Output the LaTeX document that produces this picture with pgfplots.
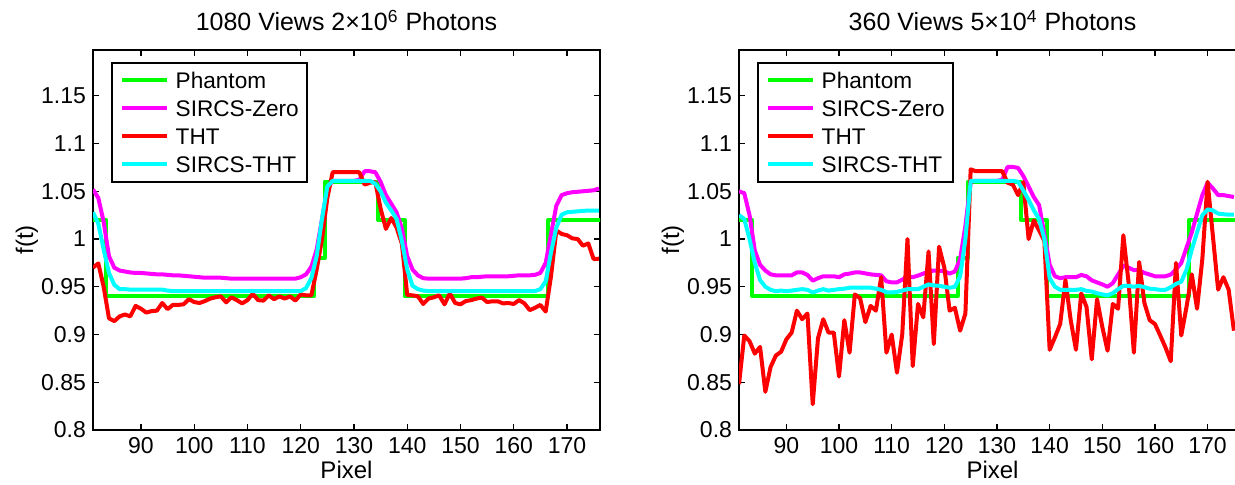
\documentclass[border=0pt]{standalone}
\usepackage{fontspec}
\setmainfont{Liberation Sans}
\usepackage{pgfplots}
\usepackage{pgfplotstable}
\pgfplotsset{compat=1.18}

\definecolor{mGreen}{RGB}{0,255,0}
\definecolor{mMagenta}{RGB}{255,0,255}
\definecolor{mRed}{RGB}{255,0,0}
\definecolor{mCyan}{RGB}{0,255,255}

% phantom (step profile, same for both panels)
\pgfplotstableread{
x y
81 1.02
83.5 1.02
83.5 0.94
122.5 0.94
122.5 0.98
124.5 0.98
124.5 1.06
134.5 1.06
134.5 1.02
139.5 1.02
139.5 0.94
166.5 0.94
166.5 1.02
178 1.02
}\phantomdata

% 1080 views, 2e6 photons
\pgfplotstableread{
x zero tht stht
81 1.052 0.970 1.028
82 1.043 0.9745 1.016
83 1.018 0.950 0.989
84 0.982 0.917 0.9645
85 0.970 0.914 0.952
86 0.967 0.919 0.9475
87 0.966 0.921 0.9475
88 0.965 0.919 0.947
89 0.9645 0.930 0.947
90 0.9645 0.927 0.947
91 0.964 0.923 0.947
92 0.9635 0.9245 0.947
93 0.963 0.925 0.947
94 0.963 0.933 0.947
95 0.9625 0.9266 0.946
96 0.962 0.931 0.9455
97 0.962 0.931 0.9455
98 0.9615 0.9316 0.9455
99 0.961 0.937 0.9455
100 0.9605 0.934 0.9455
101 0.960 0.933 0.9455
102 0.9595 0.935 0.9455
103 0.9595 0.9376 0.9455
104 0.9595 0.939 0.9455
105 0.9595 0.940 0.9455
106 0.959 0.9337 0.9455
107 0.9585 0.939 0.9455
108 0.9585 0.936 0.9455
109 0.9585 0.9326 0.9455
110 0.9585 0.936 0.9455
111 0.9585 0.9426 0.9455
112 0.9585 0.936 0.9455
113 0.9585 0.9355 0.9455
114 0.9585 0.941 0.9455
115 0.9585 0.937 0.9455
116 0.9585 0.940 0.9455
117 0.9585 0.9376 0.9455
118 0.9585 0.940 0.9455
119 0.9585 0.9355 0.9455
120 0.960 0.942 0.9455
121 0.963 0.941 0.9486
122 0.971 0.941 0.959
123 0.989 0.968 0.982
124 1.021 1.000 1.021
125 1.053 1.043 1.055
126 1.061 1.070 1.061
127 1.061 1.070 1.061
128 1.061 1.070 1.061
129 1.061 1.070 1.061
130 1.061 1.070 1.061
131 1.062 1.070 1.061
132 1.071 1.057 1.061
133 1.071 1.059 1.061
134 1.070 1.0596 1.058
135 1.060 1.032 1.050
136 1.046 1.0106 1.038
137 1.037 1.022 1.030
138 1.028 1.012 1.021
139 1.011 0.995 0.998
140 0.982 0.9415 0.968
141 0.968 0.941 0.951
142 0.962 0.940 0.9475
143 0.959 0.932 0.946
144 0.9585 0.9376 0.9455
145 0.9585 0.939 0.9455
146 0.9585 0.941 0.9455
147 0.9585 0.9316 0.9455
148 0.9585 0.943 0.9455
149 0.9585 0.933 0.9455
150 0.9585 0.9316 0.9455
151 0.959 0.935 0.9455
152 0.960 0.936 0.9455
153 0.960 0.9376 0.9455
154 0.9605 0.9387 0.9455
155 0.961 0.934 0.9455
156 0.961 0.9348 0.9455
157 0.961 0.9348 0.9455
158 0.961 0.9326 0.9455
159 0.961 0.933 0.9455
160 0.9615 0.932 0.9455
161 0.962 0.936 0.9455
162 0.962 0.9326 0.9455
163 0.962 0.9255 0.9455
164 0.9625 0.928 0.9455
165 0.9645 0.931 0.9475
166 0.975 0.924 0.9557
167 1.005 0.961 0.986
168 1.035 1.0089 1.012
169 1.046 1.0053 1.0255
170 1.048 1.004 1.028
171 1.049 1.0007 1.0285
172 1.0495 1.000 1.029
173 1.050 0.993 1.0295
174 1.0505 0.9954 1.0298
175 1.051 0.979 1.0298
176 1.053 0.9794 1.0298
}\leftdata

% 360 views, 5e4 photons
\pgfplotstableread{
x zero tht stht
81 1.050 0.848 1.025
82 1.048 0.899 1.021
83 1.025 0.893 1.000
84 0.988 0.880 0.975
85 0.973 0.887 0.957
86 0.967 0.840 0.950
87 0.963 0.866 0.9468
88 0.962 0.878 0.9454
89 0.962 0.882 0.946
90 0.962 0.895 0.9454
91 0.962 0.902 0.946
92 0.965 0.925 0.9468
93 0.965 0.916 0.9475
94 0.9624 0.922 0.9468
95 0.9564 0.827 0.944
96 0.959 0.896 0.946
97 0.961 0.916 0.9475
98 0.961 0.902 0.946
99 0.961 0.902 0.9468
100 0.960 0.856 0.9475
101 0.963 0.915 0.948
102 0.9638 0.881 0.949
103 0.965 0.942 0.949
104 0.965 0.938 0.949
105 0.964 0.913 0.949
106 0.963 0.930 0.949
107 0.9624 0.925 0.948
108 0.962 0.960 0.9468
109 0.9557 0.881 0.9443
110 0.9546 0.900 0.944
111 0.9546 0.860 0.9447
112 0.9574 0.900 0.946
113 0.961 1.000 0.9475
114 0.960 0.867 0.9475
115 0.9617 0.932 0.9475
116 0.9638 0.918 0.950
117 0.966 0.987 0.9525
118 0.967 0.890 0.9514
119 0.9667 0.992 0.951
120 0.9663 0.970 0.950
121 0.9638 0.925 0.949
122 0.966 0.928 0.950
123 0.979 0.904 0.961
124 1.014 0.922 1.000
125 1.060 1.073 1.061
126 1.061 1.071 1.061
127 1.061 1.071 1.061
128 1.061 1.071 1.061
129 1.061 1.071 1.061
130 1.061 1.071 1.061
131 1.062 1.071 1.061
132 1.0755 1.059 1.061
133 1.0755 1.057 1.061
134 1.0745 1.046 1.060
135 1.066 1.0596 1.051
136 1.055 1.000 1.041
137 1.044 1.0195 1.030
138 1.0355 1.009 1.021
139 1.005 0.998 1.000
140 0.973 0.884 0.959
141 0.961 0.897 0.950
142 0.959 0.911 0.9468
143 0.960 0.957 0.9468
144 0.960 0.915 0.9468
145 0.960 0.884 0.9468
146 0.9624 0.943 0.9475
147 0.961 0.929 0.9457
148 0.9567 0.874 0.945
149 0.9546 0.937 0.9433
150 0.9525 0.908 0.942
151 0.950 0.883 0.941
152 0.9539 0.932 0.9433
153 0.9628 0.927 0.9475
154 0.972 1.004 0.951
155 0.970 0.954 0.951
156 0.9674 0.881 0.950
157 0.9674 0.976 0.951
158 0.9645 0.933 0.9496
159 0.9628 0.915 0.948
160 0.961 0.911 0.9475
161 0.961 0.899 0.9468
162 0.961 0.8865 0.9468
163 0.9628 0.872 0.9496
164 0.968 0.975 0.953
165 0.975 0.899 0.9553
166 0.991 0.929 0.968
167 1.007 0.963 0.989
168 1.0266 0.927 1.007
169 1.046 0.979 1.025
170 1.059 1.060 1.031
171 1.053 1.0035 1.030
172 1.046 0.947 1.0266
173 1.046 0.960 1.026
174 1.045 0.947 1.0255
175 1.044 0.904 1.0255
}\rightdata

\pgfplotsset{
  every axis title shift=0pt,
  matlab/.style={
    scale only axis, width=253.5pt, height=190pt,
    xmin=81, ymin=0.8, ymax=1.198,
    xtick={90,100,110,120,130,140,150,160,170},
    xticklabels={90,100,110,120,130,140,150,160,170},
    ytick={0.8,0.85,0.9,0.95,1,1.05,1.1,1.15},
    yticklabels={0.8,0.85,0.9,0.95,1,1.05,1.1,1.15},
    /pgf/number format/assume math mode=true,
    tick align=inside, major tick length=3.2pt,
    axis line style={line width=0.8pt},
    every tick/.append style={black, line width=0.6pt},
    tick label style={font=\fontsize{11.5}{13}\selectfont},
    title style={font=\fontsize{12.5}{15}\selectfont, at={(axis description cs:0.5,1)}, anchor=base, yshift=9.5pt},
    xlabel style={font=\fontsize{12}{14}\selectfont, at={(axis description cs:0.5,0)}, anchor=base, yshift=-24.5pt},
    ylabel style={font=\fontsize{12}{14}\selectfont, at={(axis description cs:-0.118,0.5)}, anchor=base},
    xlabel={Pixel}, ylabel={f(t)},
    legend style={
      at={(0.0355,0.968)}, anchor=north west,
      draw=black, line width=0.8pt, fill=white,
      inner xsep=4pt, inner ysep=1.75pt,
      nodes={inner xsep=0pt, inner ysep=3pt, text height=8pt, text depth=0pt, font=\fontsize{11.3}{13}\selectfont},
      column sep=3.35pt, row sep=0pt,
      cells={anchor=west},
    },
    legend image code/.code={\draw[#1, line width=2pt] (0pt,0pt) -- (22.6pt,0pt);},
    every axis plot/.append style={line width=2pt, line join=round},
  }
}

\begin{document}
\begin{tikzpicture}[x=1pt,y=1pt]
\useasboundingbox (0,0) rectangle (617.5,242.5);
\begin{axis}[matlab, at={(46.5pt,27.5pt)}, anchor=south west, xmax=176.2,
  title={1080 Views 2×10\textsuperscript{6} Photons}]
\addplot[mGreen] table[x=x, y=y] {\phantomdata};
\addplot[mMagenta] table[x=x, y=zero] {\leftdata};
\addplot[mRed] table[x=x, y=tht] {\leftdata};
\addplot[mCyan] table[x=x, y=stht] {\leftdata};
\legend{Phantom,SIRCS-Zero,THT,SIRCS-THT}
\end{axis}
\begin{axis}[matlab, at={(369.5pt,27.5pt)}, anchor=south west, xmax=177.3,
  title={360 Views 5×10\textsuperscript{4} Photons}]
\addplot[mGreen] table[x=x, y=y] {\phantomdata};
\addplot[mMagenta] table[x=x, y=zero] {\rightdata};
\addplot[mRed] table[x=x, y=tht] {\rightdata};
\addplot[mCyan] table[x=x, y=stht] {\rightdata};
\legend{Phantom,SIRCS-Zero,THT,SIRCS-THT}
\end{axis}
\end{tikzpicture}
\end{document}
